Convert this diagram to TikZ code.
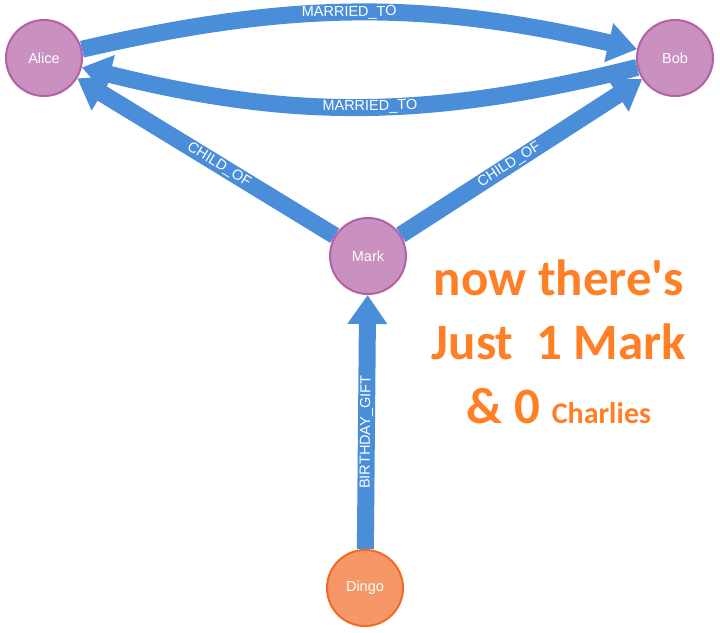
\documentclass[tikz,border=0pt]{standalone}
\usepackage{fontspec}
\setmainfont{Liberation Sans}
\newfontfamily\notefont{Carlito}
\usetikzlibrary{arrows.meta,backgrounds}
\definecolor{edgeblue}{RGB}{74,142,218}
\definecolor{personfill}{RGB}{201,144,192}
\definecolor{persondraw}{RGB}{178,97,165}
\definecolor{dogfill}{RGB}{246,151,103}
\definecolor{dogdraw}{RGB}{243,105,36}
\definecolor{notecolor}{RGB}{255,127,39}
\begin{document}
\begin{tikzpicture}[x=1pt,y=-1pt,
    person/.style={circle,draw=persondraw,fill=personfill,line width=2pt,
      minimum size=76pt,inner sep=0pt,text=white,font=\fontsize{14.5}{16}\selectfont},
    dog/.style={person,draw=dogdraw,fill=dogfill},
    rel/.style={draw=edgeblue,line width=17pt,-{Triangle[length=29pt,width=38pt]}},
    rellabel/.style={sloped,text=white,inner sep=1pt,font=\fontsize{14.5}{16}\selectfont}]
  \useasboundingbox (0,0) rectangle (720,632);
  \draw
    (44,58) node[person] (alice){Alice}
    (675,58) node[person] (bob){Bob}
    (368,256) node[person] (mark){Mark}
    (365,588) node[dog] (dingo){Dingo};
  \node[text=notecolor,align=center,font=\notefont\bfseries\fontsize{51}{64}\selectfont]
    (note) at (559,342) {now there's\\Just\ \ 1 Mark\\\& 0 {\fontsize{30}{30}\selectfont Charlies}};
  \begin{scope}[on background layer]
    \draw[rel] (alice) to[bend left=13] node[rellabel,pos=0.48]{MARRIED\_TO} (bob);
    \draw[rel] (bob) to[bend left=14] node[rellabel,pos=0.48]{MARRIED\_TO} (alice);
    \draw[rel] (mark) to node[rellabel,pos=0.45]{CHILD\_OF} (alice);
    \draw[rel] (mark) to node[rellabel,pos=0.45]{CHILD\_OF} (bob);
    \draw[rel] (dingo) to node[rellabel,pos=0.46]{BIRTHDAY\_GIFT} (mark);
  \end{scope}
\end{tikzpicture}
\end{document}
